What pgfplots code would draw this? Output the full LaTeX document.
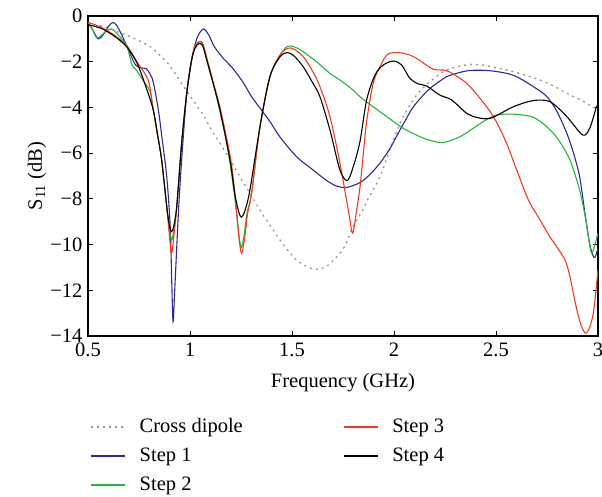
\documentclass[border=0pt]{standalone}
\usepackage{fontspec}
\setmainfont{Liberation Serif}
\usepackage{pgfplots}
\pgfplotsset{compat=1.18}
\definecolor{cdip}{RGB}{150,150,150}
\definecolor{sA}{RGB}{45,40,150}
\definecolor{sB}{RGB}{40,180,60}
\definecolor{sC}{RGB}{240,60,30}
\definecolor{sD}{RGB}{0,0,0}
\newcommand\fs{\fontsize{20.5}{24}\selectfont}
\begin{document}
\begin{tikzpicture}
\begin{axis}[
 scale only axis, width=510pt, height=320pt,
 xmin=0.5,xmax=3,ymin=-14,ymax=0,
 xtick={0.5,1,1.5,2,2.5,3}, xticklabels={0.5,1,1.5,2,2.5,3},
 ytick={-14,-12,-10,-8,-6,-4,-2,0}, yticklabels={−14,−12,−10,−8,−6,−4,−2,0},
 tick align=inside, major tick length=5pt,
 axis line style={line width=1.3pt},
 tick style={line width=1pt, black},
 tick label style={font=\fs},
 xticklabel style={yshift=-3pt},
 yticklabel style={xshift=-2pt},
 label style={font=\fs},
 xlabel={Frequency (GHz)}, ylabel={S\textsubscript{11} (dB)},
 xlabel style={at={(axis description cs:0.5,-0.147)},anchor=center},
 ylabel style={at={(axis description cs:-0.1,0.5)},anchor=center},
 legend columns=2,
 legend image code/.code={\draw[#1] (0pt,0.5pt) -- (34pt,0.5pt);},
 legend style={draw=none, fill=none, font=\fs, inner sep=0pt,
   at={(axis description cs:0.004,-0.256)}, anchor=north west,
   row sep=10pt,
   nodes={inner sep=0pt, text height=14.5pt, text depth=4.5pt, anchor=west},
   /tikz/every odd column/.append style={column sep=14pt},
   /tikz/every even column/.append style={column sep=100pt}},
 every axis plot/.append style={line width=1.1pt, smooth, tension=0.5},
]
\addlegendimage{cdip, line width=1.4pt, dash pattern=on 2pt off 4pt}
\addlegendentry{Cross dipole}
\addlegendimage{sC, line width=1.5pt}
\addlegendentry{Step 3}
\addlegendimage{sA, line width=1.5pt}
\addlegendentry{Step 1}
\addlegendimage{sD, line width=1.5pt}
\addlegendentry{Step 4}
\addlegendimage{sB, line width=1.5pt}
\addlegendentry{Step 2}

% Cross dipole
\addplot[cdip, line width=1.3pt, dash pattern=on 2pt off 4pt, forget plot] coordinates {
(0.50,-0.35) (0.55,-0.40) (0.60,-0.52) (0.65,-0.71) (0.70,-0.88) (0.73,-1.00)
(0.77,-1.17) (0.81,-1.37) (0.85,-1.70) (0.894,-2.10) (0.93,-2.55) (0.96,-2.97)
(0.99,-3.35) (1.02,-3.75) (1.065,-4.33) (1.10,-4.90) (1.147,-5.57) (1.20,-6.35)
(1.245,-7.03) (1.28,-7.55) (1.31,-8.0) (1.35,-8.6) (1.40,-9.25) (1.441,-9.8)
(1.506,-10.53) (1.55,-10.85) (1.613,-11.08) (1.67,-10.95) (1.727,-10.46) (1.76,-10.05)
(1.80,-9.2) (1.84,-8.6) (1.874,-7.98) (1.931,-7.03) (1.997,-5.42) (2.046,-4.4)
(2.111,-3.46) (2.176,-2.87) (2.258,-2.36) (2.356,-2.14) (2.40,-2.12) (2.45,-2.17)
(2.552,-2.36) (2.63,-2.55) (2.716,-2.8) (2.78,-3.05) (2.847,-3.38) (2.92,-3.7) (3.0,-4.1)
};
% Step 1
\addplot[sA, forget plot] coordinates {
(0.50,-0.32) (0.52,-0.55) (0.55,-1.00) (0.58,-0.75) (0.60,-0.45) (0.625,-0.28)
(0.65,-0.55) (0.69,-1.30) (0.73,-2.10) (0.76,-2.27) (0.785,-2.3) (0.805,-2.55)
(0.82,-2.9) (0.845,-4.11) (0.865,-5.5) (0.886,-7.03) (0.903,-9.2) (0.911,-11.8)
(0.917,-13.37) (0.924,-12.2) (0.933,-10.5) (0.945,-8.3) (0.959,-6.3) (0.984,-3.38)
(1.008,-1.92) (1.035,-0.95) (1.065,-0.57) (1.09,-0.8) (1.12,-1.35) (1.163,-1.85)
(1.21,-2.29) (1.26,-2.9) (1.30,-3.5) (1.343,-4.03) (1.392,-4.62) (1.44,-5.28)
(1.506,-6.0) (1.54,-6.3) (1.604,-6.74) (1.67,-7.2) (1.719,-7.44) (1.768,-7.5)
(1.833,-7.29) (1.88,-6.95) (1.931,-6.44) (1.98,-5.8) (2.029,-4.99) (2.06,-4.5)
(2.095,-3.97) (2.16,-3.3) (2.193,-3.05) (2.258,-2.65) (2.291,-2.55) (2.364,-2.39)
(2.45,-2.38) (2.536,-2.48) (2.60,-2.65) (2.683,-3.09) (2.75,-3.53) (2.80,-4.2)
(2.847,-5.13) (2.88,-6.0) (2.91,-7.03) (2.936,-8.63) (2.96,-10.0) (2.98,-10.57)
(2.99,-10.45) (3.00,-10.15)
};
% Step 2
\addplot[sB, forget plot] coordinates {
(0.50,-0.28) (0.52,-0.55) (0.542,-0.96) (0.565,-0.85) (0.59,-0.65) (0.616,-0.57)
(0.65,-0.85) (0.69,-1.30) (0.714,-2.1) (0.74,-2.4) (0.771,-2.83) (0.804,-3.3)
(0.82,-4.11) (0.841,-5.2) (0.861,-6.3) (0.886,-8.34) (0.90,-9.4) (0.91,-9.8)
(0.92,-9.4) (0.935,-8.34) (0.959,-5.57) (0.984,-3.38) (1.008,-1.92) (1.025,-1.35)
(1.045,-1.12) (1.062,-1.2) (1.082,-1.92) (1.115,-3.0) (1.145,-4.11) (1.17,-5.1)
(1.194,-6.3) (1.22,-8.0) (1.24,-9.6) (1.252,-10.12) (1.265,-9.6) (1.28,-8.6)
(1.302,-7.76) (1.343,-4.84) (1.392,-2.65) (1.44,-1.75) (1.47,-1.38) (1.49,-1.31)
(1.52,-1.38) (1.555,-1.56) (1.62,-2.0) (1.686,-2.51) (1.735,-2.8) (1.80,-3.24)
(1.833,-3.53) (1.898,-3.97) (1.964,-4.4) (2.045,-4.91) (2.127,-5.28) (2.16,-5.4)
(2.225,-5.54) (2.26,-5.5) (2.324,-5.28) (2.389,-4.91) (2.45,-4.55) (2.503,-4.33)
(2.569,-4.29) (2.63,-4.33) (2.683,-4.43) (2.73,-4.7) (2.781,-5.13) (2.82,-5.6)
(2.863,-6.3) (2.90,-7.3) (2.92,-8.0) (2.94,-8.9) (2.955,-9.8) (2.969,-10.38)
(2.985,-10.0) (3.0,-9.5)
};
% Step 3
\addplot[sC, forget plot] coordinates {
(0.50,-0.28) (0.567,-0.5) (0.632,-0.86) (0.69,-1.30) (0.747,-2.1) (0.796,-2.83)
(0.82,-4.11) (0.841,-5.2) (0.861,-6.3) (0.886,-8.34) (0.90,-9.7) (0.91,-10.38)
(0.92,-9.7) (0.935,-8.34) (0.959,-5.57) (0.984,-3.38) (1.008,-1.92) (1.025,-1.3)
(1.045,-1.12) (1.062,-1.2) (1.085,-1.92) (1.117,-3.0) (1.15,-4.11) (1.20,-6.3)
(1.225,-8.2) (1.24,-9.7) (1.253,-10.38) (1.268,-9.7) (1.283,-8.6) (1.302,-7.76)
(1.343,-4.84) (1.392,-2.65) (1.441,-1.7) (1.48,-1.41) (1.51,-1.45) (1.555,-1.78)
(1.60,-2.4) (1.637,-3.09) (1.686,-4.4) (1.735,-6.44) (1.776,-8.49) (1.797,-9.5)
(1.815,-8.6) (1.833,-7.5) (1.85,-6.0) (1.866,-4.6) (1.898,-2.94) (1.931,-2.22)
(1.964,-1.71) (1.997,-1.6) (2.04,-1.62) (2.078,-1.71) (2.11,-1.85) (2.135,-2.0)
(2.193,-2.33) (2.258,-2.39) (2.324,-2.73) (2.373,-3.09) (2.454,-3.97) (2.50,-4.6)
(2.552,-5.57) (2.60,-6.7) (2.659,-8.05) (2.716,-8.92) (2.76,-9.6) (2.797,-10.09)
(2.838,-10.67) (2.86,-11.3) (2.879,-12.13) (2.90,-13.0) (2.92,-13.6) (2.94,-13.88)
(2.96,-13.6) (2.977,-13.0) (2.99,-12.0) (3.00,-11.1)
};
% Step 4
\addplot[sD, forget plot] coordinates {
(0.50,-0.38) (0.567,-0.55) (0.632,-0.9) (0.69,-1.35) (0.74,-2.05) (0.78,-3.0)
(0.82,-4.11) (0.841,-5.2) (0.861,-6.3) (0.886,-8.34) (0.90,-9.2) (0.91,-9.43)
(0.92,-9.2) (0.935,-8.34) (0.959,-5.57) (0.984,-3.38) (1.008,-1.92) (1.025,-1.4)
(1.045,-1.2) (1.062,-1.3) (1.082,-1.92) (1.115,-3.0) (1.147,-4.11) (1.196,-6.3)
(1.22,-7.8) (1.24,-8.6) (1.253,-8.8) (1.27,-8.5) (1.294,-7.6) (1.343,-4.84)
(1.392,-2.65) (1.44,-1.8) (1.477,-1.6) (1.51,-1.75) (1.555,-2.22) (1.60,-2.9)
(1.637,-3.53) (1.686,-4.99) (1.735,-6.74) (1.771,-7.2) (1.80,-6.6) (1.833,-5.5)
(1.866,-3.67) (1.907,-2.58) (1.948,-2.14) (1.997,-1.97) (2.037,-2.14) (2.078,-2.73)
(2.119,-2.97) (2.16,-3.06) (2.225,-3.46) (2.282,-3.67) (2.356,-4.26) (2.389,-4.4)
(2.47,-4.48) (2.585,-3.97) (2.683,-3.7) (2.765,-3.75) (2.847,-4.4) (2.925,-5.21)
(2.96,-4.9) (2.99,-4.04) (3.00,-3.9)
};
\coordinate (bl0) at (rel axis cs:0,0);
\end{axis}
\pgfresetboundingbox
\path (bl0) ++(-88pt,-160pt) rectangle ++(602pt,496pt);
\end{tikzpicture}
\end{document}
